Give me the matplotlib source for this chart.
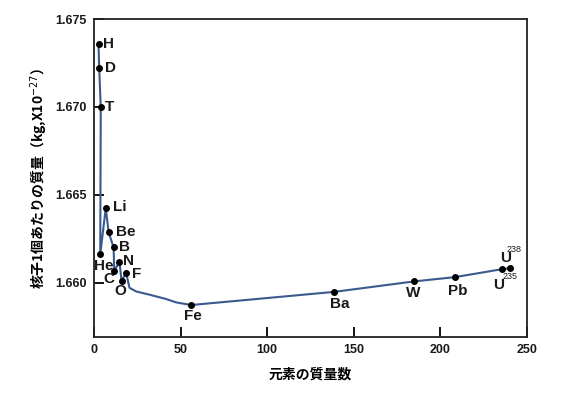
import matplotlib
matplotlib.use("Agg")
import matplotlib.pyplot as plt

# Marked elements (mass number, mass per nucleon x1e-27 kg)
elements = ["H", "D", "T", "He", "Li", "Be", "B", "C", "N", "O", "F",
            "Fe", "Ba", "W", "Pb", "U235", "U238"]
mass_number = [2.6, 3.0, 3.9, 3.6, 6.8, 8.4, 11.3, 11.7, 14.7, 15.9, 18.6,
               56.1, 138.8, 184.5, 208.6, 235.5, 240.2]
mass_per_nucleon = [1.67356, 1.67222, 1.66998, 1.66160, 1.66424, 1.66288,
                    1.66200, 1.66066, 1.66119, 1.66010, 1.66053,
                    1.65872, 1.65947, 1.66006, 1.66031, 1.66076, 1.66081]

# Unmarked points along the drawn curve between F and Fe
curve_x = [20.5, 24.4, 32.0, 41.7, 47.4]
curve_y = [1.65970, 1.65949, 1.65931, 1.65906, 1.65887]

x_ticks = [0, 50, 100, 150, 200, 250]
y_ticks = [1.660, 1.665, 1.670, 1.675]

label_text = {"H": "H", "D": "D", "T": "T", "He": "He", "Li": "Li", "Be": "Be",
              "B": "B", "C": "C", "N": "N", "O": "O", "F": "F", "Fe": "Fe",
              "Ba": "Ba", "W": "W", "Pb": "Pb", "U235": "U", "U238": "U"}
offsets = {"H": (10, 0), "D": (11, 0), "T": (9, 0), "He": (4, -12),
           "Li": (14, 1), "Be": (17, 0), "B": (11, 0), "C": (-5, -8),
           "N": (9, 1), "O": (-1, -10), "F": (10, -1), "Fe": (2, -11),
           "Ba": (5, -12), "W": (0, -12), "Pb": (2, -14),
           "U235": (-3.5, -16), "U238": (-4, 10)}
sup_text = {"U235": "235", "U238": "238"}
sup_offsets = {"U235": (8, -7), "U238": (4, 19)}

fig = plt.figure(figsize=(5.8, 3.97), dpi=100)
ax = fig.add_axes([94 / 580, 1 - 337 / 397, (527 - 94) / 580, (337 - 19) / 397])

order = ["H", "D", "T", "He", "Li", "Be", "B", "C", "N", "O", "F"]
tail = ["Fe", "Ba", "W", "Pb", "U235", "U238"]
idx = {e: i for i, e in enumerate(elements)}
lx = [mass_number[idx[e]] for e in order] + curve_x + [mass_number[idx[e]] for e in tail]
ly = [mass_per_nucleon[idx[e]] for e in order] + curve_y + [mass_per_nucleon[idx[e]] for e in tail]
ax.plot(lx, ly, color="#3a5a8e", lw=1.5, zorder=2)
ax.plot(mass_number, mass_per_nucleon, "o", color="black", ms=4, zorder=3)

pt = 72 / 100
for e, x, y in zip(elements, mass_number, mass_per_nucleon):
    dx, dy = offsets[e]
    ax.annotate(label_text[e], (x, y), xytext=(dx * pt, dy * pt),
                textcoords="offset points", ha="center", va="center",
                fontsize=11, fontweight="bold", family="Liberation Sans",
                color="#1a1a1a")
    if e in sup_text:
        sx, sy = sup_offsets[e]
        ax.annotate(sup_text[e], (x, y), xytext=(sx * pt, sy * pt),
                    textcoords="offset points", ha="center", va="center",
                    fontsize=6.5, family="Liberation Sans", color="#1a1a1a")

ax.set_xlim(0, 250)
ax.set_ylim(1.6569, 1.6749)
ax.set_xticks(x_ticks)
ax.set_yticks(y_ticks)
ax.set_xticklabels([str(v) for v in x_ticks])
ax.set_yticklabels([f"{v:.3f}" for v in y_ticks])
for lab in ax.get_xticklabels() + ax.get_yticklabels():
    lab.set_fontfamily("Liberation Sans")
    lab.set_fontweight("bold")
    lab.set_fontsize(9)
    lab.set_color("#1a1a1a")
ax.tick_params(direction="in", length=7, width=1.3, pad=5)
for s in ax.spines.values():
    s.set_linewidth(1.3)
    s.set_color("#222222")

ax.set_xlabel("元素の質量数", family=["Noto Sans CJK JP", "DejaVu Sans"],
              fontsize=10, fontweight="bold", labelpad=8)
ax.set_ylabel("核子1個あたりの質量（kg,X10$^{-27}$）",
              family=["Noto Sans CJK JP", "DejaVu Sans"],
              fontsize=10, fontweight="bold", labelpad=5)

fig.savefig("out.png", dpi=100)
